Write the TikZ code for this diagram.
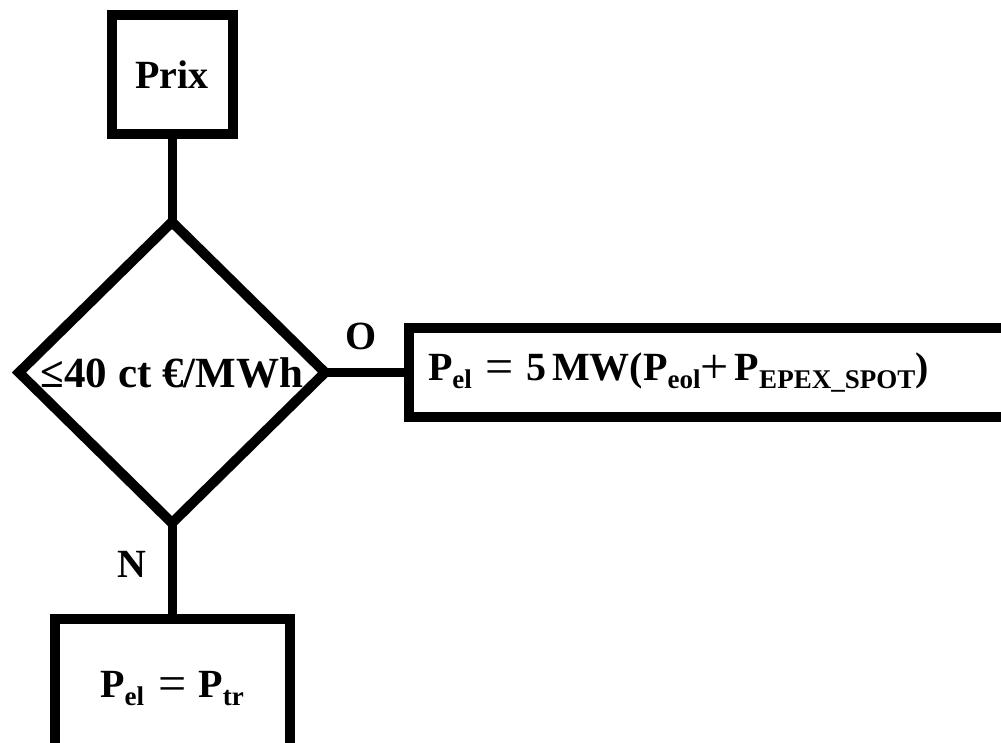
\documentclass[tikz,border=0pt]{standalone}
\usepackage{fontspec}
\setmainfont{Liberation Serif}
\usetikzlibrary{positioning,shapes.geometric}

\newcommand{\lowidx}[1]{\raisebox{-8pt}{\fontsize{27}{30}\selectfont #1}}
\newcommand{\thinop}[1]{\raisebox{-3pt}{\mdseries\fontsize{50}{50}\selectfont #1}}

\begin{document}
\begin{tikzpicture}[
      x=1pt, y=-1pt,
      node distance=88pt,
      font=\fontsize{40}{48}\selectfont\bfseries,
      box/.style={draw, line width=10pt, outer sep=0pt, inner sep=0pt, align=center},
      decision/.style={draw, diamond, line width=10pt, outer sep=0pt, inner sep=0pt, minimum width=306pt, minimum height=301pt},
      lbl/.style={inner sep=0pt},
      link/.style={line width=9pt}
    ]
  \clip (0,0) rectangle (1001,742);

  \node[box, minimum width=121pt, minimum height=119pt] (prix) at (172,74.5) {Prix};
  \node[decision, below=of prix, font=\fontsize{43}{50}\selectfont\bfseries] (seuil) {≤40 ct €/MWh};
  \node[box, right=84pt of seuil, minimum height=89pt, text width=583pt, inner xsep=19pt, align=left] (oui)
    {P\lowidx{el}\hspace{14pt}\thinop{=}\hspace{12pt}5\hspace{6pt}MW(P\lowidx{eol}\thinop{+}\hspace{6pt}P\lowidx{EPEX\_SPOT})};
  \node[box, below=96pt of seuil, minimum width=235pt, minimum height=140pt] (non)
    {P\lowidx{el}\hspace{14pt}\thinop{=}\hspace{12pt}P\lowidx{tr}};

  \draw[link] (prix) -- (seuil);
  \draw[link] (seuil) -- node[lbl, above=18pt, xshift=-6pt] {O} (oui);
  \draw[link] (seuil) -- node[lbl, pos=.43, left=21pt] {N} (non);
\end{tikzpicture}
\end{document}
